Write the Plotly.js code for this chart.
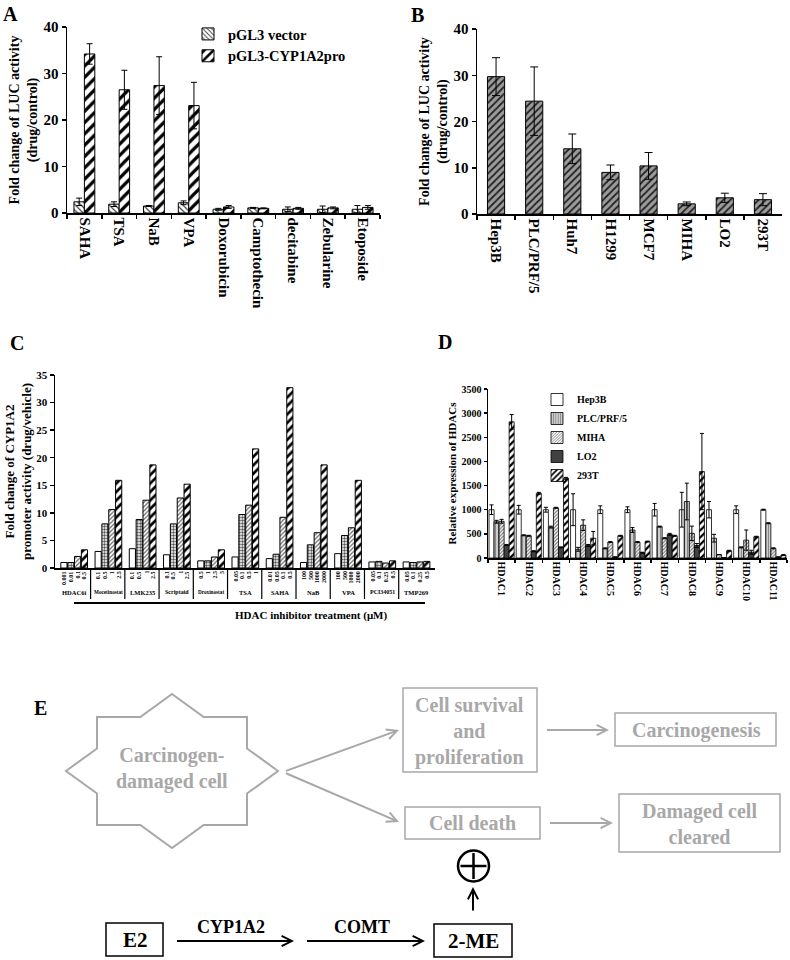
<!DOCTYPE html>
<html><head><meta charset="utf-8">
<script src="https://cdn.plot.ly/plotly-3.0.1.min.js"></script>
<style>html,body{margin:0;padding:0;background:#fff}</style>
</head><body><div id="chart" style="width:790px;height:960px"></div>
<script>
// ---------- Panel A data ----------
const aDrugs = ['SAHA','TSA','NaB','VPA','Doxorubicin','Camptothecin','decitabine','Zebularine','Etoposide'];
const aVector = [2.4,1.9,1.5,2.2,0.8,1.1,0.8,0.8,0.8];
const aVectorErr = [0.8,0.5,0.1,0.4,0.2,0.1,0.5,0.7,0.8];
const aPromoter = [34.2,26.5,27.4,23.1,1.3,1.0,1.0,1.1,1.2];
const aPromoterErr = [2.2,4.2,6.2,5.0,0.3,0.1,0.2,0.2,0.4];
// ---------- Panel B data ----------
const bCells = ['Hep3B','PLC/PRF/5','Huh7','H1299','MCF7','MIHA','LO2','293T'];
const bFold = [29.7,24.4,14.1,9.0,10.4,2.2,3.5,3.1];
const bErr = [4.1,7.4,3.2,1.6,2.9,0.4,1.0,1.3];
// ---------- Panel C data ----------
const cGroups = ['HDAC6i','Mocetinostat','LMK235','Scriptaid','Droxinostat','TSA','SAHA','NaB','VPA','PCI34051','TMP269'];
const cDoses = [
  ['0.001','0.01','0.1','0.5'],
  ['0.1','0.5','1','2.5'],
  ['0.1','0.5','1','2.5'],
  ['0.1','0.5','1','2.5'],
  ['0.5','1','2.5','5'],
  ['0.05','0.1','0.5','1'],
  ['0.01','0.05','0.1','0.5'],
  ['100','500','1000','2000'],
  ['100','500','1000','2000'],
  ['0.05','0.1','0.25','0.5'],
  ['0.05','0.1','0.25','0.5']
];
const cDose1 = [1.0,3.0,3.5,2.4,1.3,2.0,1.7,1.0,2.6,1.1,1.1];
const cDose2 = [1.0,8.0,8.8,8.0,1.3,9.7,2.5,4.2,5.9,1.2,1.0];
const cDose3 = [2.1,10.6,12.3,12.7,2.0,11.4,9.2,6.4,7.3,0.9,1.1];
const cDose4 = [3.3,15.9,18.7,15.2,3.3,21.6,32.7,18.7,15.9,1.3,1.2];
// ---------- Panel D data ----------
const dGenes = ['HDAC1','HDAC2','HDAC3','HDAC4','HDAC5','HDAC6','HDAC7','HDAC8','HDAC9','HDAC10','HDAC11'];
const dHep3B = [1000,1000,1000,1000,1000,1000,1000,1000,1000,1000,1000];
const dHep3BErr = [100,90,50,330,80,60,130,360,170,80,10];
const dPLC = [750,470,640,180,200,580,650,1170,410,220,720];
const dPLCErr = [30,10,20,40,10,50,10,380,80,10,10];
const dMIHA = [760,460,1040,680,330,330,410,510,70,370,200];
const dMIHAErr = [40,10,10,110,10,10,10,150,0,210,10];
const dLO2 = [270,140,220,260,20,110,490,260,10,120,20];
const dLO2Err = [10,10,10,20,0,10,20,40,0,40,0];
const d293T = [2820,1340,1650,410,460,340,460,1790,150,440,60];
const d293TErr = [150,20,20,140,10,10,10,790,10,10,10];

// ---------- helpers ----------
const W = 790, H = 960;
const X = p => p / W, Y = p => 1 - p / H;
const FAM = 'Liberation Serif, Times New Roman, serif';
const fnt = (size, color) => ({family: FAM, size: size, color: color || '#000', weight: 'bold'});
const GRAY = '#a8a8a8';
function ax(extra) {
  return Object.assign({showline: true, linecolor: '#000', linewidth: 1.5, ticks: 'outside', ticklen: 4,
    tickwidth: 1.5, tickcolor: '#000', showgrid: false, zeroline: false, fixedrange: true}, extra);
}
const errStyle = (arr, w) => ({type: 'data', array: arr, color: '#000', thickness: 1, width: w, visible: true});
const barLine = {color: '#000', width: 1};

const traces = [];
// Panel A
traces.push({type: 'bar', name: 'pGL3 vector', x: aDrugs, y: aVector, xaxis: 'x', yaxis: 'y', legend: 'legend',
  offset: -0.3, width: 0.3,
  marker: {color: '#fff', line: barLine, pattern: {shape: '\\', fgcolor: '#444', bgcolor: '#fff', size: 4, solidity: 0.3}},
  error_y: errStyle(aVectorErr, 3)});
traces.push({type: 'bar', name: 'pGL3-CYP1A2pro', x: aDrugs, y: aPromoter, xaxis: 'x', yaxis: 'y', legend: 'legend',
  offset: 0, width: 0.3,
  marker: {color: '#fff', line: barLine, pattern: {shape: '/', fgcolor: '#000', bgcolor: '#fff', size: 8, solidity: 0.4}},
  error_y: errStyle(aPromoterErr, 3)});
// Panel B
traces.push({type: 'bar', x: bCells, y: bFold, xaxis: 'x2', yaxis: 'y2', showlegend: false,
  offset: -0.225, width: 0.45,
  marker: {color: '#999', line: barLine, pattern: {shape: '/', fgcolor: '#222', bgcolor: '#9c9c9c', size: 5, solidity: 0.35}},
  error_y: errStyle(bErr, 4)});
// Panel C
const cLevels = [cDose1, cDose2, cDose3, cDose4];
const cPatterns = [
  {shape: '', bgcolor: '#fff'},
  {shape: '.', fgcolor: '#555', bgcolor: '#fff', size: 3, solidity: 0.5},
  {shape: '/', fgcolor: '#666', bgcolor: '#fff', size: 3, solidity: 0.4},
  {shape: '/', fgcolor: '#000', bgcolor: '#fff', size: 6, solidity: 0.45}
];
cLevels.forEach((vals, k) => {
  traces.push({type: 'bar', x: cGroups.map((g, gi) => gi * 5 + k), y: vals, xaxis: 'x3', yaxis: 'y3', showlegend: false,
    offset: -0.45, width: 0.9,
    marker: {color: '#fff', line: barLine, pattern: cPatterns[k]}});
});
// Panel D
const dSeries = [
  ['Hep3B', dHep3B, dHep3BErr, {shape: '', bgcolor: '#fff'}],
  ['PLC/PRF/5', dPLC, dPLCErr, {shape: '|', fgcolor: '#888', bgcolor: '#d4d4d4', size: 3, solidity: 0.4}],
  ['MIHA', dMIHA, dMIHAErr, {shape: '/', fgcolor: '#777', bgcolor: '#fff', size: 2.5, solidity: 0.45}],
  ['LO2', dLO2, dLO2Err, {shape: '|', fgcolor: '#222', bgcolor: '#555', size: 2, solidity: 0.4}],
  ['293T', d293T, d293TErr, {shape: '/', fgcolor: '#000', bgcolor: '#fff', size: 5, solidity: 0.45}]
];
const dW = 0.185;
dSeries.forEach((s, k) => {
  traces.push({type: 'bar', name: s[0], x: dGenes, y: s[1], xaxis: 'x4', yaxis: 'y4', legend: 'legend2',
    offset: -2.5 * dW + k * dW, width: dW,
    marker: {color: '#fff', line: {color: '#000', width: 0.8}, pattern: s[3]},
    error_y: errStyle(s[2], 2)});
});

// ---------- annotations & shapes ----------
const ann = [];
const shp = [];
const label = (t, x, y, size) => ann.push({text: t, x: X(x), y: Y(y), xref: 'paper', yref: 'paper', showarrow: false, font: fnt(size), xanchor: 'center', yanchor: 'middle'});
label('A', 10, 14, 20); label('B', 417, 15, 20); label('C', 17, 343, 20); label('D', 445, 342, 20); label('E', 40, 708, 20);

// Panel C table
cGroups.forEach((g, gi) => {
  cDoses[gi].forEach((d, k) => {
    ann.push({text: d, xref: 'x3', yref: 'paper', x: gi * 5 + k, y: Y(569), textangle: -90, xanchor: 'center', yanchor: 'top',
      showarrow: false, font: fnt(6)});
  });
  const gs = g.length > 9 ? 5.2 : (g.length > 6 ? 6 : 6.5);
  ann.push({text: g, xref: 'x3', yref: 'paper', x: gi * 5 + 1.5, y: Y(592), xanchor: 'center', yanchor: 'middle',
    showarrow: false, font: fnt(gs)});
  if (gi < cGroups.length - 1) {
    shp.push({type: 'line', xref: 'x3', yref: 'paper', x0: gi * 5 + 3.9, x1: gi * 5 + 3.9, y0: Y(568), y1: Y(599),
      line: {color: '#000', width: 1.2}});
  }
});
shp.push({type: 'line', xref: 'paper', yref: 'paper', x0: X(74), x1: X(425), y0: Y(603), y1: Y(603), line: {color: '#000', width: 1.8}});
ann.push({text: 'HDAC inhibitor treatment (μM)', xref: 'paper', yref: 'paper', x: X(233), y: Y(615), showarrow: false, font: fnt(11)});

// Panel E diagram
const sc = [172, 771], rw = 75, rh = 54, dw = 106, dh = 77;
const ix = dw * (1 - rh / dh), iy = dh * (1 - rw / dw);
const star = [
  [0, -dh], [ix, -rh], [rw, -rh], [rw, -iy], [dw, 0], [rw, iy], [rw, rh], [ix, rh],
  [0, dh], [-ix, rh], [-rw, rh], [-rw, iy], [-dw, 0], [-rw, -iy], [-rw, -rh], [-ix, -rh]
];
const starPath = star.map((p, i) => (i ? 'L' : 'M') + X(sc[0] + p[0]).toFixed(5) + ',' + Y(sc[1] + p[1]).toFixed(5)).join(' ') + ' Z';
shp.push({type: 'path', xref: 'paper', yref: 'paper', path: starPath, line: {color: GRAY, width: 2}});
const box = (x0, y0, x1, y1, c, w) => shp.push({type: 'rect', xref: 'paper', yref: 'paper', x0: X(x0), x1: X(x1), y0: Y(y1), y1: Y(y0), line: {color: c, width: w}});
box(403, 688, 537, 772, GRAY, 1.5);
box(615, 713, 776, 746, GRAY, 1.5);
box(405, 807, 540, 839, GRAY, 1.5);
box(619, 794, 780, 852, GRAY, 1.5);
box(106, 923, 163, 956, '#000', 1.5);
box(434, 924, 512, 957, '#000', 1.5);
const txt = (t, x, y, size, c) => ann.push({text: t, x: X(x), y: Y(y), xref: 'paper', yref: 'paper', showarrow: false, font: fnt(size, c), xanchor: 'center', yanchor: 'middle'});
txt('Carcinogen-<br>damaged cell', 172, 768, 20, GRAY);
txt('Cell survival<br>and<br>proliferation', 470, 731, 20, GRAY);
txt('Carcinogenesis', 696, 730, 20, GRAY);
txt('Cell death', 472, 823, 20, GRAY);
txt('Damaged cell<br>cleared', 699, 824, 20, GRAY);
txt('E2', 135, 940, 21, '#000');
txt('2-ME', 473, 941, 21, '#000');
txt('CYP1A2', 231, 927, 18, '#000');
txt('COMT', 362, 927, 18, '#000');
const arrow = (tx, ty, hx, hy, c, w) => ann.push({text: ' ', xref: 'paper', yref: 'paper', x: X(hx), y: Y(hy),
  axref: 'pixel', ayref: 'pixel', ax: tx - hx, ay: ty - hy, showarrow: true, arrowhead: 5, arrowsize: 1, arrowwidth: w, arrowcolor: c});
arrow(283, 772, 399, 730, GRAY, 2);
arrow(283, 772, 399, 822, GRAY, 2);
arrow(544, 730, 609, 730, GRAY, 2);
arrow(547, 823, 613, 823, GRAY, 2);
arrow(473, 919, 473, 887, '#000', 2);
arrow(174, 941, 294, 941, '#000', 2);
arrow(304, 941, 425, 941, '#000', 2);
shp.push({type: 'circle', xref: 'paper', yref: 'paper', x0: X(458), x1: X(489), y0: Y(881.5), y1: Y(850.5), line: {color: '#000', width: 2.5}});
shp.push({type: 'line', xref: 'paper', yref: 'paper', x0: X(460.5), x1: X(486.5), y0: Y(866), y1: Y(866), line: {color: '#000', width: 2.5}});
shp.push({type: 'line', xref: 'paper', yref: 'paper', x0: X(473.5), x1: X(473.5), y0: Y(853), y1: Y(879), line: {color: '#000', width: 2.5}});

const layout = {
  width: W, height: H, margin: {l: 0, r: 0, t: 0, b: 0}, paper_bgcolor: '#fff', plot_bgcolor: 'rgba(0,0,0,0)',
  font: fnt(12), barmode: 'overlay', showlegend: true,
  xaxis: ax({domain: [X(67), X(380)], anchor: 'y', type: 'category', range: [-0.5, 8.5], tickangle: 90, tickson: 'boundaries', tickfont: fnt(15)}),
  yaxis: ax({domain: [Y(213), Y(27)], anchor: 'x', range: [0, 40], dtick: 10, tickfont: fnt(15),
    title: {text: 'Fold change of LUC activity<br>(drug/control)', font: fnt(14)}}),
  xaxis2: ax({domain: [X(477), X(782)], anchor: 'y2', type: 'category', range: [-0.5, 7.5], tickangle: 90, tickson: 'boundaries', tickfont: fnt(15)}),
  yaxis2: ax({domain: [Y(214), Y(29)], anchor: 'x2', range: [0, 40], dtick: 10, tickfont: fnt(15),
    title: {text: 'Fold change of LUC activity<br>(drug/control)', font: fnt(14)}}),
  xaxis3: ax({domain: [X(55), X(435)], anchor: 'y3', range: [-1.3, 54.2], showticklabels: false, ticks: ''}),
  yaxis3: ax({domain: [Y(568), Y(375)], anchor: 'x3', range: [0, 35], dtick: 5, tickfont: fnt(11),
    title: {text: 'Fold change of CYP1A2<br>promoter activity (drug/vehicle)', font: fnt(13)}}),
  xaxis4: ax({domain: [X(488), X(787)], anchor: 'y4', type: 'category', range: [-0.5, 10.5], tickangle: 90, tickson: 'boundaries', ticklen: 3, tickfont: fnt(10)}),
  yaxis4: ax({domain: [Y(558), Y(389)], anchor: 'x4', range: [0, 3500], dtick: 500, ticklen: 3, tickfont: fnt(10),
    title: {text: 'Relative expression of HDACs', font: fnt(11)}}),
  legend: {x: X(188), y: Y(18), xanchor: 'left', yanchor: 'top', font: fnt(14.5), bgcolor: 'rgba(0,0,0,0)', traceorder: 'normal'},
  legend2: {x: X(537), y: Y(385), xanchor: 'left', yanchor: 'top', font: fnt(10), bgcolor: 'rgba(0,0,0,0)', traceorder: 'normal'},
  annotations: ann, shapes: shp
};
Plotly.newPlot('chart', traces, layout, {displayModeBar: false, staticPlot: true});
</script></body></html>
